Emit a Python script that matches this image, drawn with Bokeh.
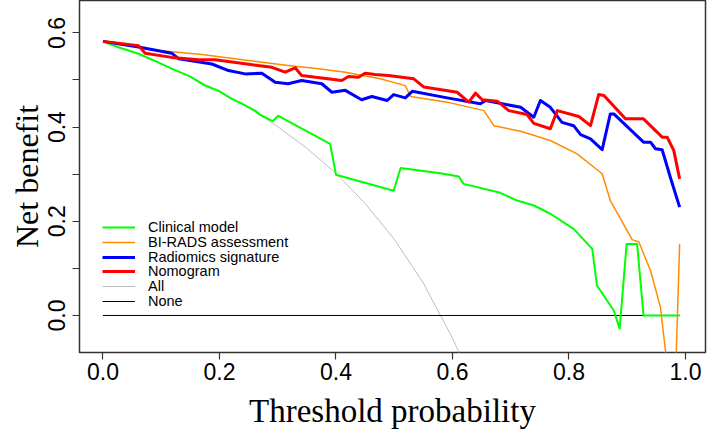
from bokeh.plotting import figure
from bokeh.models import Range1d, FixedTicker, CustomJSTickFormatter, Legend, LegendItem
from bokeh.embed import file_html
from bokeh.resources import INLINE

# ---------------- data ----------------
clin_pt = [0.0, 0.03, 0.061, 0.09, 0.118, 0.15, 0.175, 0.2, 0.221, 0.24, 0.261, 0.27, 0.2915,
           0.301, 0.390, 0.400, 0.499, 0.511, 0.579, 0.611, 0.619, 0.682, 0.711, 0.740,
           0.768, 0.808, 0.840, 0.848, 0.877, 0.887, 0.899, 0.917, 0.928, 0.99]
clin_nb = [0.582, 0.568, 0.556, 0.540, 0.524, 0.507, 0.488, 0.476, 0.460, 0.449, 0.435, 0.426, 0.4125,
           0.424, 0.3645, 0.299, 0.265, 0.313, 0.302, 0.295, 0.2795, 0.2605, 0.244, 0.2335,
           0.216, 0.184, 0.1415, 0.0637, 0.0106, -0.028, 0.152, 0.152, 0.0, 0.0]

bir_pt = [0.0, 0.05, 0.10, 0.170, 0.22, 0.27, 0.318, 0.37, 0.416, 0.476, 0.519, 0.528, 0.591,
          0.654, 0.671, 0.717, 0.768, 0.814, 0.857, 0.871, 0.9085, 0.920, 0.940, 0.957,
          0.97, 0.98, 0.99]
bir_nb = [0.582, 0.572, 0.562, 0.554, 0.546, 0.538, 0.531, 0.524, 0.5166, 0.5025, 0.488, 0.465, 0.453,
          0.435, 0.403, 0.391, 0.3715, 0.343, 0.301, 0.244, 0.161, 0.156, 0.0955, 0.0177,
          -0.12, -0.25, 0.152]

rad_pt = [0.0, 0.061, 0.118, 0.130, 0.187, 0.2155, 0.244, 0.2727, 0.2956, 0.318, 0.341, 0.3756,
          0.393, 0.416, 0.444, 0.4615, 0.488, 0.499, 0.519, 0.531, 0.591, 0.648, 0.657, 0.717,
          0.7396, 0.751, 0.768, 0.788, 0.808, 0.820, 0.837, 0.857, 0.871, 0.877, 0.928, 0.940,
          0.9485, 0.960, 0.974, 0.99]
rad_nb = [0.582, 0.570, 0.557, 0.545, 0.534, 0.520, 0.513, 0.5145, 0.495, 0.492, 0.499, 0.492,
          0.474, 0.478, 0.458, 0.465, 0.4565, 0.469, 0.462, 0.476, 0.462, 0.4495, 0.4565, 0.442,
          0.421, 0.4565, 0.442, 0.410, 0.403, 0.384, 0.375, 0.352, 0.428, 0.428, 0.368, 0.368,
          0.354, 0.352, 0.2936, 0.230]

nom_pt = [0.0, 0.061, 0.0724, 0.118, 0.164, 0.1926, 0.290, 0.3128, 0.330, 0.341, 0.410, 0.4215,
          0.4386, 0.450, 0.467, 0.490, 0.5336, 0.551, 0.608, 0.628, 0.6395, 0.651, 0.677,
          0.6967, 0.728, 0.7396, 0.768, 0.780, 0.817, 0.837, 0.851, 0.860, 0.897, 0.928,
          0.960, 0.9686, 0.980, 0.99]
nom_nb = [0.582, 0.573, 0.557, 0.548, 0.543, 0.543, 0.527, 0.5166, 0.526, 0.5096, 0.499, 0.5074,
          0.506, 0.5145, 0.5117, 0.5096, 0.5025, 0.485, 0.474, 0.453, 0.472, 0.458, 0.455,
          0.435, 0.4268, 0.408, 0.3964, 0.435, 0.4225, 0.403, 0.469, 0.467, 0.4176, 0.4176,
          0.3786, 0.3786, 0.350, 0.290]

all_pt = [0.0, 0.05, 0.10, 0.15, 0.20, 0.25, 0.30, 0.35, 0.40, 0.45, 0.50, 0.55, 0.60, 0.62]
all_nb = [0.581, 0.559, 0.534, 0.507, 0.476, 0.441, 0.401, 0.355, 0.302, 0.238, 0.162, 0.069, -0.048, -0.103]

none_pt = [0.0, 0.99]
none_nb = [0.0, 0.0]

x_ticks = [0.0, 0.2, 0.4, 0.6, 0.8, 1.0]
y_ticks = [0.0, 0.1, 0.2, 0.3, 0.4, 0.5, 0.6]

legend_labels = ["Clinical model", "BI-RADS assessment", "Radiomics signature",
                 "Nomogram", "All", "None"]
x_title = "Threshold probability"
y_title = "Net benefit"

# ---------------- figure ----------------
p = figure(width=708, height=439,
           x_range=Range1d(-0.0403, 1.0344), y_range=Range1d(-0.0786, 0.6688),
           output_backend="svg", toolbar_location=None,
           min_border_left=79, min_border_right=3, min_border_top=0, min_border_bottom=87)

p.grid.visible = False
p.background_fill_color = "white"
p.border_fill_color = "white"
p.outline_line_color = "#333333"
p.outline_line_width = 1.5

sans = "Liberation Sans"
serif = "Liberation Serif"

p.xaxis.ticker = FixedTicker(ticks=x_ticks)
p.xaxis.formatter = CustomJSTickFormatter(code="return tick.toFixed(1);")
p.yaxis.ticker = FixedTicker(ticks=y_ticks)
p.yaxis.formatter = CustomJSTickFormatter(
    code="return (Math.round(tick*10) % 2 == 0) ? tick.toFixed(1) : '';")

for ax in (p.xaxis, p.yaxis):
    ax.axis_line_color = None
    ax.major_tick_out = 7
    ax.major_tick_in = 0
    ax.major_tick_line_color = "#333333"
    ax.major_tick_line_width = 1.2
    ax.minor_tick_line_color = None
    ax.major_label_text_font = sans
    ax.major_label_text_font_size = "23px"
    ax.major_label_text_color = "black"
    ax.axis_label_text_font = serif
    ax.axis_label_text_font_style = "normal"
    ax.axis_label_text_color = "black"

p.xaxis.axis_label = x_title
p.xaxis.axis_label_text_font_size = "33px"
p.xaxis.major_label_standoff = 3
p.xaxis.axis_label_standoff = 10

p.yaxis.axis_label = y_title
p.yaxis.axis_label_text_font_size = "32px"
p.yaxis.major_label_orientation = "vertical"
p.yaxis.major_label_standoff = 7
p.yaxis.axis_label_standoff = 1

r_all = p.line(all_pt, all_nb, line_color="#BEBEBE", line_width=1)
r_none = p.line(none_pt, none_nb, line_color="black", line_width=1)
r_clin = p.line(clin_pt, clin_nb, line_color="#00FF00", line_width=2, line_join="round")
r_bir = p.line(bir_pt, bir_nb, line_color="#FF8C00", line_width=1.5, line_join="round")
r_rad = p.line(rad_pt, rad_nb, line_color="#0000FF", line_width=3, line_join="round")
r_nom = p.line(nom_pt, nom_nb, line_color="#FF0000", line_width=3, line_join="round")

# one single-row legend per entry so that each row sits at the reference's pitch
renderers = [r_clin, r_bir, r_rad, r_nom, r_all, r_none]
row_h = 16.5
for i, (lab, r) in enumerate(zip(legend_labels, renderers)):
    row_center_from_top = 226.7 + 14.8 * i      # frame top is the canvas top
    y_loc = 352 - row_center_from_top - row_h / 2
    lg = Legend(items=[LegendItem(label=lab, renderers=[r])], location=(23, y_loc))
    lg.border_line_color = None
    lg.background_fill_alpha = 0
    lg.padding = 0
    lg.margin = 0
    lg.spacing = 0
    lg.glyph_width = 33
    lg.glyph_height = 16
    lg.label_height = 16
    lg.label_standoff = 13
    lg.label_text_font = sans
    lg.label_text_font_size = "14.5px"
    lg.label_text_color = "black"
    lg.label_text_baseline = "middle"
    p.add_layout(lg, "center")

open("out.html", "w").write(file_html(p, INLINE))
